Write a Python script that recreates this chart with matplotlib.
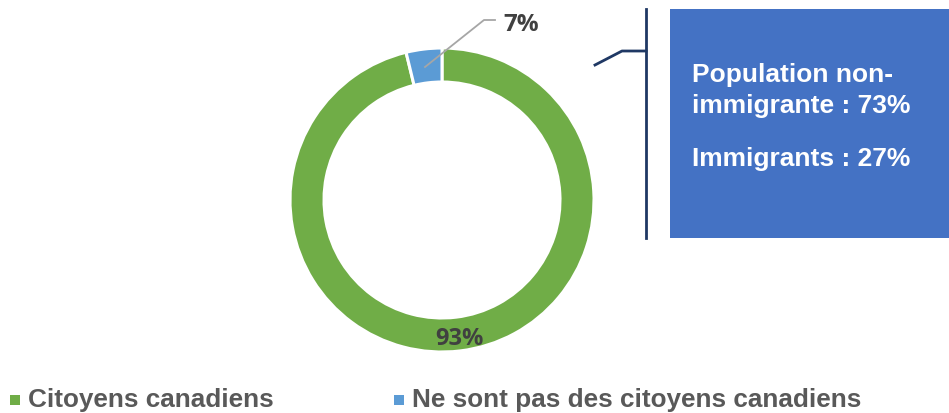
import matplotlib
matplotlib.use("Agg")
import matplotlib.pyplot as plt
from matplotlib.patches import Rectangle

# Data
categories = ["Citoyens canadiens", "Ne sont pas des citoyens canadiens"]
drawn_shares = [96.2, 3.8]          # slice sizes as drawn in the picture
share_labels = ["93%", "7%"]        # labels as printed on the chart
colors = ["#70AD47", "#5B9BD5"]
box_lines = ["Population non-", "immigrante : 73%", "Immigrants : 27%"]

W, H = 949, 414
fig = plt.figure(figsize=(W / 100, H / 100), dpi=100)
ax = fig.add_axes([0, 0, 1, 1])

def Y(y):
    return H - y

cx, cy, R, ring = 442, 201, 152, 34
ax.pie(drawn_shares, colors=colors, startangle=90, counterclock=False,
       center=(cx, Y(cy)), radius=R,
       wedgeprops=dict(width=ring, edgecolor="white", linewidth=2.2))

ax.set_xlim(0, W)
ax.set_ylim(0, H)
ax.set_aspect("equal")
ax.axis("off")

lab_font = dict(family=["Open Sans", "DejaVu Sans"], fontweight="bold", color="#404040")
# 93% label
ax.text(459, Y(345), share_labels[0], ha="center", va="baseline", fontsize=17, **lab_font)
# 7% label with leader line
ax.plot([425, 484, 495], [Y(68), Y(21), Y(21)], color="#A6A6A6", lw=1.3)
ax.text(521, Y(31), share_labels[1], ha="center", va="baseline", fontsize=17.5, **lab_font)

# Bracket line
navy = "#1F3864"
ax.plot([595, 622, 646], [Y(66), Y(52), Y(52)], color=navy, lw=2)
ax.plot([646, 646], [Y(10), Y(239)], color=navy, lw=2)

# Blue box
ax.add_patch(Rectangle((670, Y(239)), W - 670, 229, facecolor="#4472C4", edgecolor="none"))
box_font = dict(family=["Liberation Sans", "DejaVu Sans"], fontweight="bold", color="white", fontsize=19)
ax.text(692, Y(82), box_lines[0], ha="left", va="baseline", **box_font)
ax.text(692, Y(113), box_lines[1], ha="left", va="baseline", **box_font)
ax.text(692, Y(166), box_lines[2], ha="left", va="baseline", **box_font)

# Legend
leg_font = dict(family=["Liberation Sans", "DejaVu Sans"], fontweight="bold", color="#595959", fontsize=18.8)
ax.add_patch(Rectangle((10, Y(406)), 10, 10, facecolor=colors[0], edgecolor="none"))
ax.text(28, Y(407), categories[0], ha="left", va="baseline", **leg_font)
ax.add_patch(Rectangle((394, Y(406)), 10, 10, facecolor=colors[1], edgecolor="none"))
ax.text(412, Y(407), categories[1], ha="left", va="baseline", **leg_font)

fig.savefig("out.png", dpi=100)
